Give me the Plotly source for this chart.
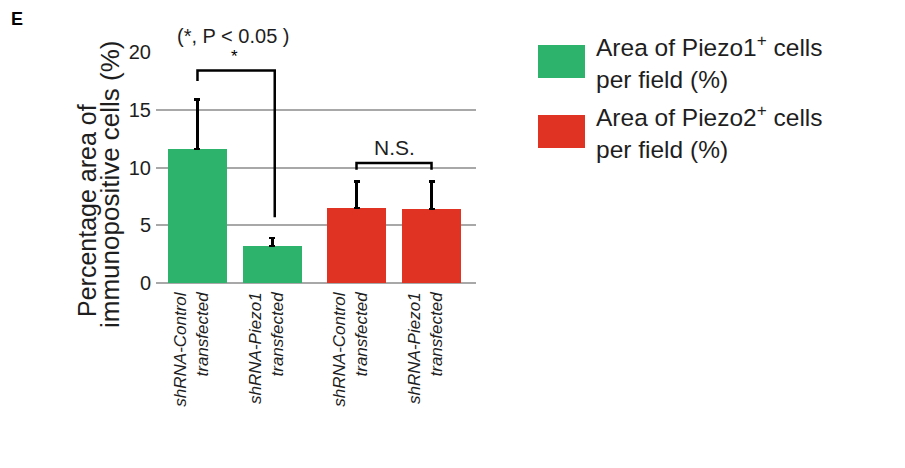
import plotly.graph_objects as go

categories = ["shRNA-Control<br>transfected", "shRNA-Piezo1<br>transfected",
              "shRNA-Control<br>transfected", "shRNA-Piezo1<br>transfected"]
group = [0, 0, 1, 1]
piezo1_values = [11.6, 3.2]
piezo1_err = [4.3, 0.7]
piezo2_values = [6.5, 6.4]
piezo2_err = [2.3, 2.4]
y_ticks = [0, 5, 10, 15, 20]
y_title_lines = ["Percentage area of", "immunopositive cells (%)"]
legend_texts = ["Area of Piezo1<sup>+</sup> cells<br>per field (%)",
                "Area of Piezo2<sup>+</sup> cells<br>per field (%)"]

GREEN = "#2db36b"
RED = "#e03324"
FONT = "Liberation Sans, Arial, sans-serif"
TXT = "#1e1e1e"

L, R, T, B = 156, 429, 52, 185
PW, PH = 905 - L - R, 468 - T - B


def px(x):
    return (x - L) / PW


def py(y):
    return (468 - B - y) / PH


pos = [i + g * 0.12 for i, g in enumerate(group)]

fig = go.Figure()
fig.add_trace(go.Bar(
    x=pos[:2], y=piezo1_values, width=0.787, marker=dict(color=GREEN, line=dict(width=0)),
    error_y=dict(type="data", symmetric=False, array=piezo1_err,
                 arrayminus=[0, 0], color="black", thickness=2.5, width=3),
    name="Area of Piezo1+ cells per field (%)", showlegend=False))
fig.add_trace(go.Bar(
    x=pos[2:], y=piezo2_values, width=0.787, marker=dict(color=RED, line=dict(width=0)),
    error_y=dict(type="data", symmetric=False, array=piezo2_err,
                 arrayminus=[0, 0], color="black", thickness=2.5, width=3),
    name="Area of Piezo2+ cells per field (%)", showlegend=False))

shapes = []
top1 = piezo1_values[0] + piezo1_err[0]
top2 = piezo1_values[1] + piezo1_err[1]
yb = 18.4
shapes.append(dict(type="path", xref="x", yref="y",
                   path=f"M {pos[0]},{top1 + 1.6} L {pos[0]},{yb} L {pos[1] + 0.03},{yb} L {pos[1] + 0.03},{top2 + 1.8}",
                   line=dict(color="black", width=2.5)))
t3 = piezo2_values[0] + piezo2_err[0]
shapes.append(dict(type="path", xref="x", yref="y",
                   path=f"M {pos[2]},{t3 + 1.0} L {pos[2]},{t3 + 1.6} L {pos[3]},{t3 + 1.6} L {pos[3]},{t3 + 1.0}",
                   line=dict(color="black", width=2.5)))
for (c, ytop) in [(GREEN, 45), (RED, 115)]:
    shapes.append(dict(type="rect", xref="paper", yref="paper",
                       x0=px(538), x1=px(585), y0=py(ytop + 33), y1=py(ytop),
                       fillcolor=c, line=dict(width=0)))

annotations = [
    dict(text="<b>E</b>", xref="paper", yref="paper", x=px(9), y=py(19),
         xanchor="left", yanchor="middle", showarrow=False, font=dict(size=18, color="black", family=FONT)),
    dict(text="(*, P < 0.05 )", xref="paper", yref="paper", x=px(233), y=py(36),
         xanchor="center", yanchor="middle", showarrow=False, font=dict(size=20, color=TXT, family=FONT)),
    dict(text="*", xref="x", yref="y", x=(pos[0] + pos[1]) / 2, y=yb + 0.2,
         xanchor="center", yanchor="bottom", showarrow=False, font=dict(size=17, color="black", family=FONT)),
    dict(text="N.S.", xref="x", yref="y", x=(pos[2] + pos[3]) / 2, y=t3 + 1.75,
         xanchor="center", yanchor="bottom", showarrow=False, font=dict(size=21, color=TXT, family=FONT)),
    dict(text=y_title_lines[0], xref="paper", yref="paper", x=px(87), y=py(211), textangle=-90,
         xanchor="center", yanchor="middle", showarrow=False, font=dict(size=25, color=TXT, family=FONT)),
    dict(text=y_title_lines[1], xref="paper", yref="paper", x=px(110), y=py(184), textangle=-90,
         xanchor="center", yanchor="middle", showarrow=False, font=dict(size=26, color=TXT, family=FONT)),
]
for k, yc in enumerate([61.5, 131.5]):
    annotations.append(dict(text=legend_texts[k], xref="paper", yref="paper", x=px(594), y=py(yc),
                            xanchor="left", yanchor="middle", align="left", showarrow=False,
                            font=dict(size=24.5, color=TXT, family=FONT)))

fig.update_layout(
    width=905, height=468,
    margin=dict(l=L, r=R, t=T, b=B, autoexpand=False),
    paper_bgcolor="white", plot_bgcolor="white",
    font=dict(family=FONT, color=TXT),
    shapes=shapes, annotations=annotations,
    bargap=0,
)
fig.update_xaxes(
    range=[-0.553, 3.713], tickmode="array", tickvals=pos,
    ticktext=[f"<i>{c.replace('<br>', '</i><br><i>')}</i>" for c in categories],
    tickangle=-90, tickfont=dict(size=17, family=FONT, color=TXT),
    showgrid=False, showline=False, zeroline=False, ticks="", automargin=False,
    ticklabelshift=-6, ticklabelstandoff=5,
)
fig.update_yaxes(
    range=[0, 20], tickvals=y_ticks, showgrid=True, gridcolor="#a8a8a8", gridwidth=2,
    zeroline=True, zerolinecolor="#a8a8a8", zerolinewidth=2, showline=False, ticks="",
    tickfont=dict(size=20, family=FONT, color=TXT), automargin=False, ticklabelstandoff=4,
)

fig.write_html("out.html", config={"displayModeBar": False},
               post_script="document.body.style.margin='0';")
